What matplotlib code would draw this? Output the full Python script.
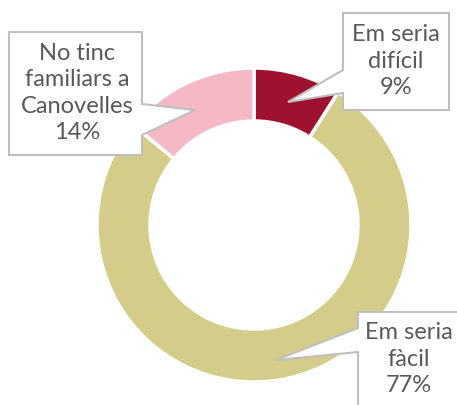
import matplotlib
matplotlib.use('Agg')
import matplotlib.pyplot as plt
from matplotlib.patches import Polygon

labels = ['Em seria\ndifícil', 'Em seria\nfàcil', 'No tinc\nfamiliars a\nCanovelles']
values = [9, 77, 14]
colors = ['#9E1230', '#D4CD8A', '#F5B8C5']

W, H = 457, 405
fig = plt.figure(figsize=(W / 100, H / 100), dpi=100)
ax = fig.add_axes([0, 0, 1, 1])

R = 157
ax.pie(values, colors=colors, startangle=90, counterclock=False,
       center=(254, H - 225), radius=R,
       wedgeprops=dict(width=53, edgecolor='white', linewidth=2.5))

# callouts (pixel coords, y down): box + pointer on one side
def callout(x0, y0, x1, y1, side, pa, pb, tip):
    if side == 'right':
        pts = [(x0, y0), (x1, y0), (x1, pa), tip, (x1, pb), (x1, y1), (x0, y1)]
    else:
        pts = [(x0, y0), (x1, y0), (x1, y1), (x0, y1), (x0, pb), tip, (x0, pa)]
    pts = [(x, H - y) for x, y in pts]
    ax.add_patch(Polygon(pts, closed=True, facecolor='white', edgecolor='#BFBFBF',
                         linewidth=1.5, zorder=5))

callout(9, 32, 142, 155, 'right', 104, 135, (195, 110))
callout(343, 13, 449, 110, 'left', 70, 93, (288, 102))
callout(358, 312, 470, 420, 'left', 328, 352, (276, 360))

txt = dict(ha='center', va='center', fontsize=17, color='#595959',
           family='Lato', linespacing=1.3, zorder=6)
ax.text(77, H - 93, labels[2] + '\n' + '%d%%' % values[2], **txt)
ax.text(396, H - 61, labels[0] + '\n' + '%d%%' % values[0], **txt)
ax.text(409, H - 359, labels[1] + '\n' + '%d%%' % values[1], **txt)

ax.set_xlim(0, W)
ax.set_ylim(0, H)
ax.axis('off')
fig.savefig('out.png', dpi=100)
